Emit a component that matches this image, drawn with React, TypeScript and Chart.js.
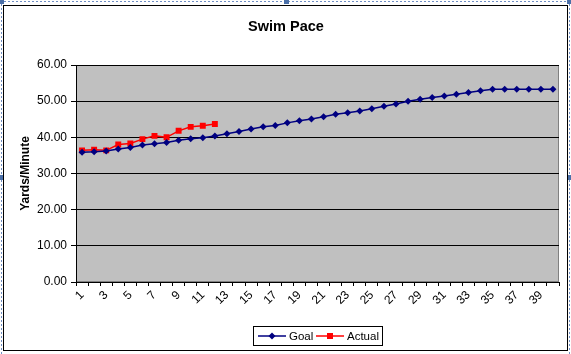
import React, { useEffect, useRef } from 'react';
import { Chart, registerables } from 'chart.js';

Chart.register(...registerables);

const chartTitle = 'Swim Pace';
const yAxisTitle = 'Yards/Minute';
const categories = ['1','2','3','4','5','6','7','8','9','10','11','12','13','14','15','16','17','18','19','20','21','22','23','24','25','26','27','28','29','30','31','32','33','34','35','36','37','38','39','40'];
const goalValues = [35.9, 36.0, 36.2, 36.8, 37.2, 37.9, 38.2, 38.6, 39.2, 39.6, 39.9, 40.4, 41.0, 41.6, 42.3, 42.9, 43.3, 44.0, 44.6, 45.1, 45.7, 46.4, 46.8, 47.3, 47.9, 48.6, 49.2, 50.0, 50.5, 51.0, 51.4, 51.9, 52.4, 52.9, 53.3, 53.3, 53.3, 53.3, 53.3, 53.3];
const actualValues = [36.4, 36.6, 36.4, 38.0, 38.3, 39.5, 40.4, 40.0, 41.8, 42.9, 43.2, 43.7];
const yMin = 0;
const yMax = 60;
const yStep = 10;

const FONT = '"Liberation Sans", Arial, sans-serif';

const decorPlugin = {
  id: 'decor',
  beforeDraw(chart: any) {
    const { ctx, chartArea, width, height } = chart;
    ctx.save();
    ctx.fillStyle = '#ffffff';
    ctx.fillRect(0, 0, width, height);
    // selection frame
    ctx.strokeStyle = '#6f8fc4';
    ctx.lineWidth = 1;
    ctx.setLineDash([2, 2]);
    ctx.beginPath();
    ctx.moveTo(0, 1.5); ctx.lineTo(width, 1.5);
    ctx.moveTo(1.5, 0); ctx.lineTo(1.5, height);
    ctx.moveTo(width - 1.5, 0); ctx.lineTo(width - 1.5, height);
    ctx.stroke();
    ctx.setLineDash([]);
    ctx.fillStyle = '#4a6fa8';
    ctx.fillRect(0, 0, 4, 4);
    ctx.fillRect(284, 0, 5, 4);
    ctx.fillRect(width - 4, 0, 4, 4);
    ctx.fillRect(0, 175, 4, 5);
    ctx.fillRect(width - 4, 175, 4, 5);
    // chart border
    ctx.strokeStyle = '#000000';
    ctx.lineWidth = 1;
    ctx.strokeRect(3.5, 5.5, 564, 345);
    // plot area
    ctx.fillStyle = '#c0c0c0';
    ctx.fillRect(chartArea.left, chartArea.top, chartArea.right - chartArea.left, chartArea.bottom - chartArea.top);
    ctx.strokeStyle = '#808080';
    ctx.strokeRect(chartArea.left + 0.5, chartArea.top + 0.5, chartArea.right - chartArea.left - 1, chartArea.bottom - chartArea.top - 1);
    // title
    ctx.fillStyle = '#000000';
    ctx.font = `bold 14.5px ${FONT}`;
    ctx.textAlign = 'center';
    ctx.textBaseline = 'middle';
    ctx.fillText(chartTitle, 286, 27);
    ctx.restore();
  },
  afterDraw(chart: any) {
    const { ctx } = chart;
    const ds = chart.data.datasets;
    ctx.save();
    const boxL = 253.5, boxT = 326.5, boxW = 129, boxH = 19;
    ctx.fillStyle = '#ffffff';
    ctx.fillRect(boxL, boxT, boxW, boxH);
    ctx.strokeStyle = '#000000';
    ctx.lineWidth = 1;
    ctx.strokeRect(boxL, boxT, boxW, boxH);
    const cy = boxT + boxH / 2;
    const starts = [258, 316];
    ctx.font = `11.5px ${FONT}`;
    ctx.textBaseline = 'middle';
    ctx.textAlign = 'left';
    ds.forEach((d: any, i: number) => {
      const x0 = starts[i];
      const x1 = x0 + 28;
      ctx.strokeStyle = d.borderColor;
      ctx.lineWidth = 1.5;
      ctx.beginPath();
      ctx.moveTo(x0, cy); ctx.lineTo(x1, cy);
      ctx.stroke();
      ctx.fillStyle = d.pointBackgroundColor;
      const mx = (x0 + x1) / 2;
      if (d.pointStyle === 'rectRot') {
        ctx.beginPath();
        ctx.moveTo(mx, cy - 3.5); ctx.lineTo(mx + 3.5, cy); ctx.lineTo(mx, cy + 3.5); ctx.lineTo(mx - 3.5, cy);
        ctx.closePath(); ctx.fill();
      } else {
        ctx.fillRect(mx - 3, cy - 3, 6, 6);
      }
      ctx.fillStyle = '#000000';
      ctx.fillText(d.label, x1 + 3, cy + 0.5);
    });
    ctx.restore();
  },
};

export default function App() {
  const ref = useRef<HTMLCanvasElement | null>(null);
  useEffect(() => {
    if (!ref.current) return;
    const chart = new Chart(ref.current, {
      type: 'line',
      data: {
        labels: categories,
        datasets: [
          {
            label: 'Goal',
            data: goalValues,
            borderColor: '#000080',
            backgroundColor: '#000080',
            pointBackgroundColor: '#000080',
            pointBorderColor: '#000080',
            pointStyle: 'rectRot',
            pointRadius: 3.5,
            pointBorderWidth: 0,
            borderWidth: 1.5,
            tension: 0,
          } as any,
          {
            label: 'Actual',
            data: actualValues,
            borderColor: '#ff0000',
            backgroundColor: '#ff0000',
            pointBackgroundColor: '#ff0000',
            pointBorderColor: '#ff0000',
            pointStyle: 'rect',
            pointRadius: 4.2,
            pointBorderWidth: 0,
            borderWidth: 1.5,
            tension: 0,
          } as any,
        ],
      },
      options: {
        responsive: false,
        animation: false,
        devicePixelRatio: 1,
        layout: { padding: { left: 0, top: 65, right: 12, bottom: 0 } },
        plugins: {
          legend: { display: false },
          title: { display: false },
          tooltip: { enabled: false },
        },
        scales: {
          x: {
            type: 'category',
            offset: true,
            grid: { display: true, drawOnChartArea: false, drawTicks: true, tickLength: 4, color: '#000000', offset: true },
            border: { display: true, color: '#000000', width: 1 },
            ticks: {
              autoSkip: false,
              maxRotation: 45,
              minRotation: 45,
              padding: 2,
              color: '#000000',
              font: { family: FONT, size: 12 },
              callback: (_v: any, idx: number) => (idx % 2 === 0 ? categories[idx] : ''),
            },
            afterFit: (scale: any) => { scale.height = 72; },
          },
          y: {
            min: yMin,
            max: yMax,
            grid: { color: '#000000', drawTicks: true, tickLength: 5, lineWidth: 1 },
            border: { display: true, color: '#000000', width: 1 },
            ticks: {
              stepSize: yStep,
              padding: 4,
              color: '#000000',
              font: { family: FONT, size: 12 },
              callback: (v: any) => Number(v).toFixed(2),
            },
            title: {
              display: true,
              text: yAxisTitle,
              color: '#000000',
              font: { family: FONT, size: 12, weight: 'bold' },
              padding: { top: 18, bottom: 0 },
            },
            afterFit: (scale: any) => { scale.width = 76; },
          },
        },
      },
      plugins: [decorPlugin],
    } as any);
    return () => chart.destroy();
  }, []);
  return (
    <div style={{ position: 'fixed', left: 0, top: 0, width: 571, height: 354 }}>
      <canvas ref={ref} width={571} height={354} style={{ display: 'block' }} />
    </div>
  );
}
